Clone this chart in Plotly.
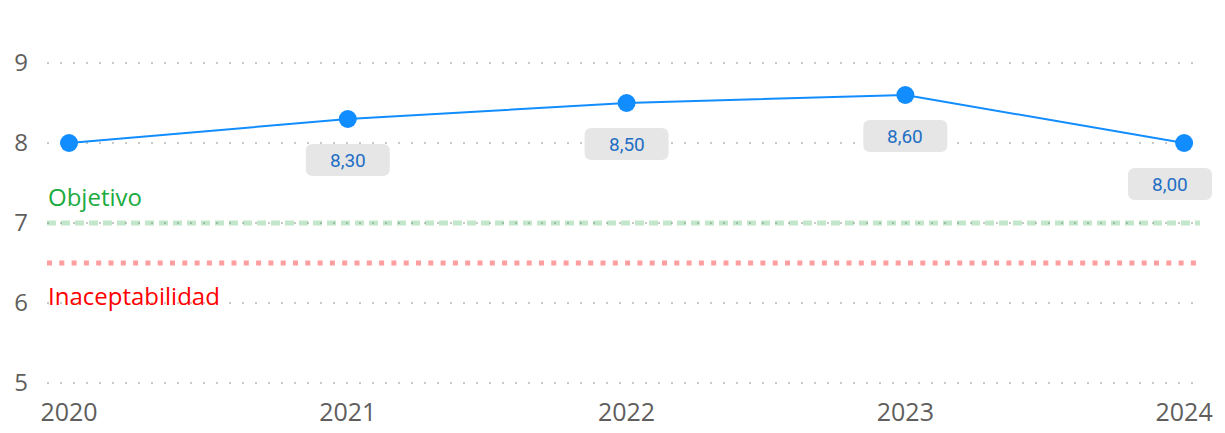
import plotly.graph_objects as go

years = [2020, 2021, 2022, 2023, 2024]
values = [8.0, 8.3, 8.5, 8.6, 8.0]
labels = ["", "8,30", "8,50", "8,60", "8,00"]
objetivo = 7.0
inaceptabilidad = 6.5
y_ticks = [5, 6, 7, 8, 9]

BLUE = "#118DFF"
LABEL_BLUE = "#1F6FC4"

fig = go.Figure()

x_range = [2019.921, 2024.057]

# Reference lines
fig.add_trace(go.Scatter(
    x=x_range, y=[objetivo, objetivo], mode="lines",
    line=dict(color="rgba(40,170,70,0.28)", width=5, dash="9px,5px"),
    hoverinfo="skip", showlegend=False))
fig.add_trace(go.Scatter(
    x=x_range, y=[inaceptabilidad, inaceptabilidad], mode="lines",
    line=dict(color="#FF9E9E", width=5, dash="5px,7.3px"),
    hoverinfo="skip", showlegend=False))

# Main series
fig.add_trace(go.Scatter(
    x=years, y=values, mode="lines+markers",
    line=dict(color=BLUE, width=2),
    marker=dict(color=BLUE, size=18),
    hoverinfo="skip", showlegend=False))


def rounded_box(cx, cy, w, h, r):
    x0, x1 = cx - w / 2, cx + w / 2
    y0, y1 = cy - h / 2, cy + h / 2
    return (f"M {x0+r},{y0} L {x1-r},{y0} Q {x1},{y0} {x1},{y0+r} "
            f"L {x1},{y1-r} Q {x1},{y1} {x1-r},{y1} L {x0+r},{y1} "
            f"Q {x0},{y1} {x0},{y1-r} L {x0},{y0+r} Q {x0},{y0} {x0+r},{y0} Z")


shapes = []
annotations = []
for i, (yr, v, lab) in enumerate(zip(years, values, labels)):
    if not lab:
        continue
    last = i == len(years) - 1
    if last:
        # keep the last label inside the chart: anchor it to the plot's right edge
        xref, xa, dx = "paper", 1.0, -30
    else:
        xref, xa, dx = "x", yr, 0
    shapes.append(dict(
        type="path", xref=xref, yref="y", xsizemode="pixel", ysizemode="pixel",
        xanchor=xa, yanchor=v, path=rounded_box(dx, -41, 84, 32, 7),
        fillcolor="#E6E6E6", line=dict(width=0), layer="above"))
    annotations.append(dict(
        x=xa, y=v, xref=xref, yref="y", text=lab, showarrow=False,
        xanchor="center", yanchor="middle",
        xshift=dx, yshift=-41,
        font=dict(family="Roboto", size=19, color=LABEL_BLUE)))

# right scrollbar strip
shapes.append(dict(type="rect", xref="paper", yref="paper",
                   x0=1.0165, x1=1.03, y0=-0.2, y1=1.1,
                   fillcolor="#F0F0F0", line=dict(width=0), layer="below"))

annotations.append(dict(
    x=0, y=objetivo, xref="paper", yref="y", text="Objetivo", showarrow=False,
    xanchor="left", yanchor="bottom", yshift=8, xshift=-1,
    font=dict(family="Open Sans", size=24, color="#1AAB40")))
annotations.append(dict(
    x=0, y=6, xref="paper", yref="y", text="Inaceptabilidad", showarrow=False,
    xanchor="left", yanchor="middle", yshift=8, xshift=-1,
    font=dict(family="Open Sans", size=24, color="#FF0000")))

fig.update_layout(
    width=1217, height=425,
    margin=dict(l=39, r=25, t=0, b=48),
    paper_bgcolor="white", plot_bgcolor="white",
    shapes=shapes, annotations=annotations,
    xaxis=dict(range=x_range, tickmode="array", tickvals=years,
               ticktext=[str(y) for y in years], showgrid=False, zeroline=False,
               showline=False, ticks="", ticklabelstandoff=10, automargin=False,
               tickfont=dict(family="Open Sans", size=25, color="#605E5C")),
    yaxis=dict(range=[4.975, 9.6875], tickmode="array", tickvals=y_ticks,
               showgrid=True, gridcolor="#C8C8C8", gridwidth=2,
               griddash="2px,11px", zeroline=False, showline=False, ticks="",
               ticklabelstandoff=18, automargin=False,
               tickfont=dict(family="Open Sans", size=24, color="#605E5C")),
)

fig.write_html("out.html")
